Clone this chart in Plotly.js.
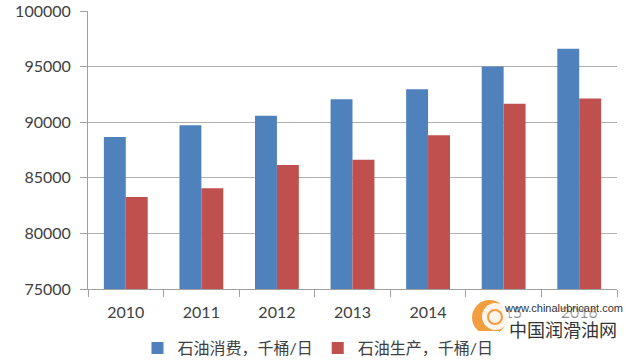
<!DOCTYPE html>
<html><head><meta charset="utf-8">
<script src="https://cdn.plot.ly/plotly-3.0.1.min.js"></script>
<style>html,body{margin:0;padding:0;background:#fff}#c{width:640px;height:362px}</style>
</head><body><div id="c"></div>
<script>
const years = ['2010','2011','2012','2013','2014','2015','2016'];
const consumption = [88670, 89720, 90580, 92060, 92970, 95000, 96600];
const production = [83280, 84060, 86160, 86620, 88830, 91670, 92130];
const seriesNames = ['石油消费，千桶/日', '石油生产，千桶/日'];
const yTicks = [75000, 80000, 85000, 90000, 95000, 100000];

const font = 'Lato, "Noto Sans CJK SC", sans-serif';
const traces = [
  {type:'bar', x:years, y:consumption, name:seriesNames[0], marker:{color:'#4f81bd'}},
  {type:'bar', x:years, y:production, name:seriesNames[1], marker:{color:'#c0504d'}}
];
function px(x){return (x-88)/529;}
function py(y){return (289-y)/278;}
const layout = {
  width:640, height:362,
  margin:{l:88, r:23, t:11, b:73, autoexpand:false},
  paper_bgcolor:'#fff', plot_bgcolor:'#fff',
  barmode:'group', bargap:0.42, bargroupgap:0,
  font:{family:font, size:16, color:'#404040'},
  xaxis:{type:'category', showline:true, linecolor:'#a0a0a0', linewidth:1,
    ticks:'outside', tickson:'boundaries', ticklen:7, tickcolor:'#a0a0a0',
    showgrid:false, tickfont:{size:16, color:'#404040'}, automargin:false, ticklabelstandoff:9},
  yaxis:{range:[75000,100000], tickvals:yTicks, ticktext:yTicks.map(String),
    showline:true, linecolor:'#a0a0a0', linewidth:1, ticks:'outside', ticklen:7,
    tickcolor:'#a0a0a0', showgrid:true, gridcolor:'#b0b0b0', gridwidth:1.2,
    zeroline:false, tickfont:{size:16, color:'#404040'}, automargin:false, ticklabelstandoff:6},
  legend:{orientation:'h', x:px(318), xanchor:'center', y:py(348), yanchor:'middle',
    font:{size:16, color:'#404040'}, itemwidth:30, traceorder:'normal'},
  shapes:[
    {type:'circle', xref:'paper', yref:'paper', x0:px(472), x1:px(507), y0:py(335), y1:py(300),
     fillcolor:'rgba(240,140,30,0.85)', line:{width:0}},
    {type:'circle', xref:'paper', yref:'paper', x0:px(482), x1:px(509), y0:py(330), y1:py(303),
     fillcolor:'rgba(255,255,255,0.9)', line:{width:0}},
    {type:'circle', xref:'paper', yref:'paper', x0:px(488), x1:px(502), y0:py(324), y1:py(310),
     fillcolor:'rgba(255,255,255,0)', line:{width:2, color:'rgba(240,140,30,0.85)'}}
  ],
  annotations:[
    {xref:'paper', yref:'paper', x:px(563), y:py(308), xanchor:'center', yanchor:'middle',
     text:'www.chinalubricant.com', showarrow:false, font:{family:'Liberation Sans, Arial', size:11, color:'#333'},
     bgcolor:'rgba(255,255,255,0.55)'},
    {xref:'paper', yref:'paper', x:px(563), y:py(329), xanchor:'center', yanchor:'middle',
     text:'中国润滑油网', showarrow:false, font:{family:'"Noto Sans CJK SC"', size:18, color:'#333'},
     bgcolor:'rgba(255,255,255,0.4)'}
  ]
};
Plotly.newPlot('c', traces, layout, {displayModeBar:false, staticPlot:true});
</script></body></html>
